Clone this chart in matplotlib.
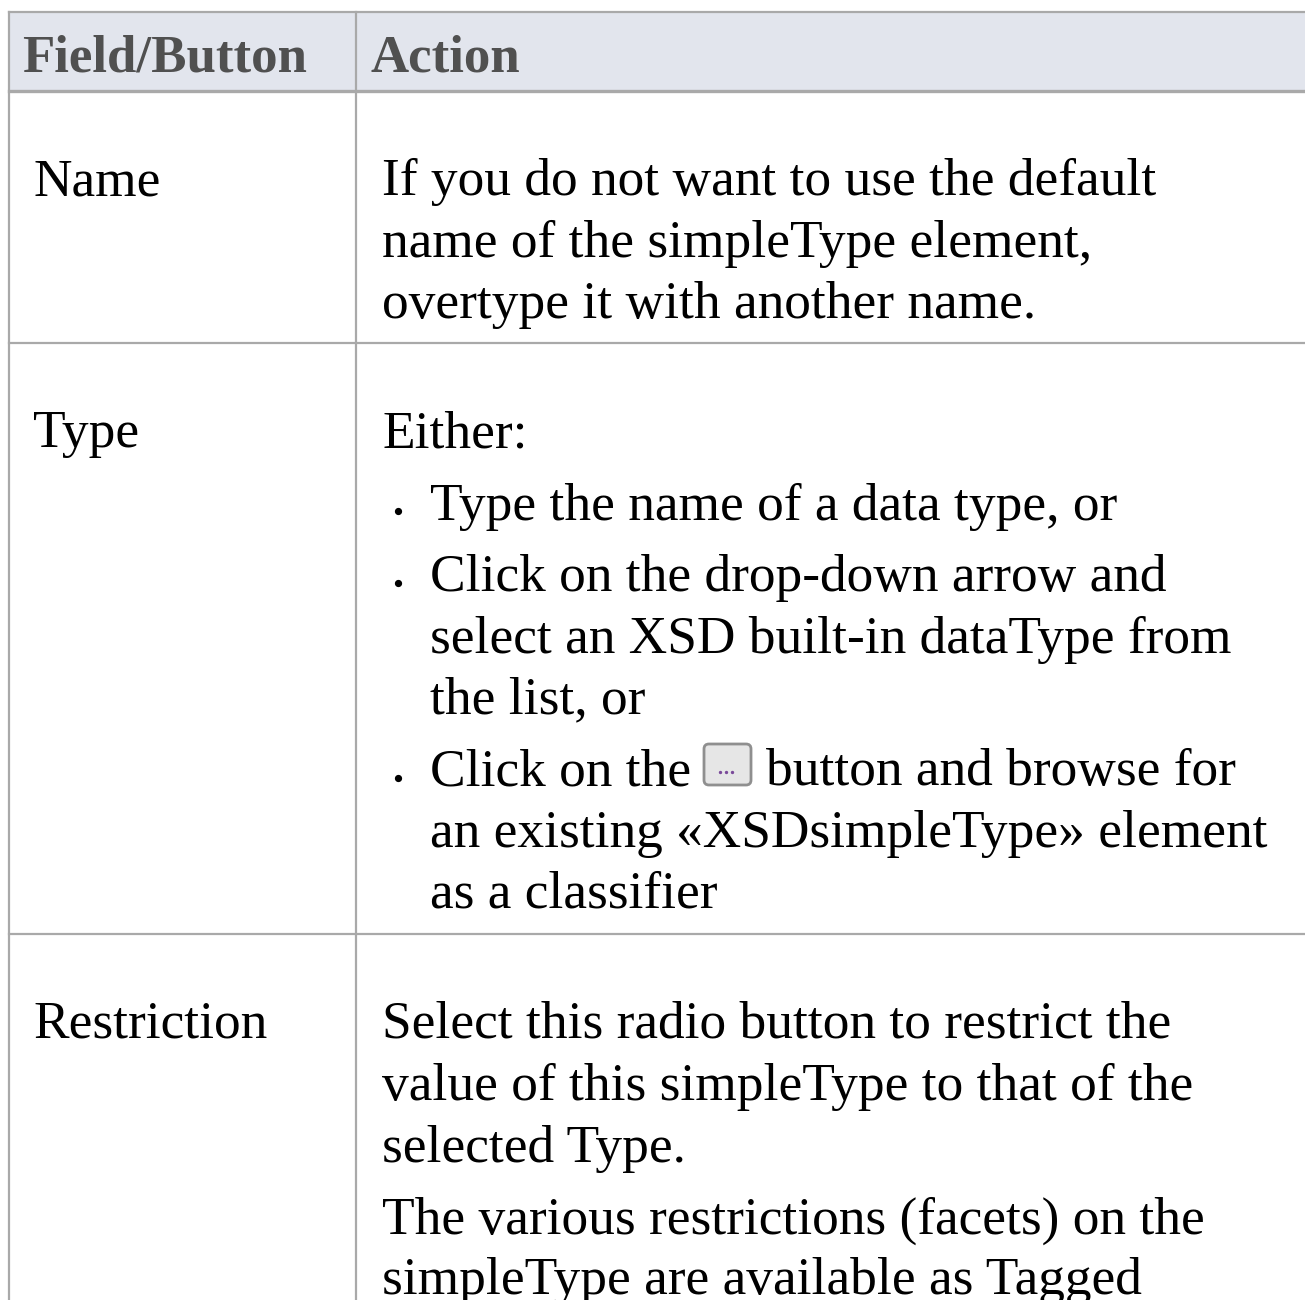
import matplotlib
matplotlib.use('Agg')
import matplotlib.pyplot as plt
from matplotlib.patches import Rectangle, FancyBboxPatch

headers = ['Field/Button', 'Action']
field_names = ['Name', 'Type', 'Restriction']
name_lines = ['If you do not want to use the default',
              'name of the simpleType element,',
              'overtype it with another name.']
type_lines = ['Either:']
type_bullets = ['Type the name of a data type, or',
                'Click on the drop-down arrow and',
                'select an XSD built-in dataType from',
                'the list, or',
                'Click on the',
                'an existing «XSDsimpleType» element',
                'as a classifier']
restriction_lines = ['Select this radio button to restrict the',
                     'value of this simpleType to that of the',
                     'selected Type.',
                     'The various restrictions (facets) on the',
                     'simpleType are available as Tagged']
button_tail = 'button and browse for'

W, H = 1305, 1300
FS = 38.4
BLACK = '#000000'
LINE = '#a9a9a9'

plt.rcParams['font.family'] = ['Liberation Serif', 'DejaVu Serif']
fig = plt.figure(figsize=(W / 100, H / 100), dpi=100)
ax = fig.add_axes([0, 0, 1, 1])
ax.set_xlim(0, W)
ax.set_ylim(H, 0)
ax.axis('off')

# header band
ax.add_patch(Rectangle((9, 12), W - 9, 79, fc='#e2e5ed', ec='none', zorder=1))

# table rules
ax.plot([9, 9], [12, H], color=LINE, lw=1.6, zorder=2)
ax.plot([356, 356], [12, H], color=LINE, lw=1.6, zorder=2)
ax.plot([9, W], [12, 12], color=LINE, lw=1.6, zorder=2)
ax.plot([9, W], [91, 91], color=LINE, lw=2.4, zorder=2)
ax.plot([9, W], [343, 343], color=LINE, lw=1.6, zorder=2)
ax.plot([9, W], [934, 934], color=LINE, lw=1.6, zorder=2)


def put(x, y, s, **kw):
    ax.text(x, y, s, fontsize=kw.pop('fontsize', FS), va='baseline', ha='left',
            color=kw.pop('color', BLACK), zorder=3, **kw)


# header text
put(22, 71, headers[0], fontweight='bold', color='#505050', fontsize=38.1)
put(370.5, 71, headers[1], fontweight='bold', color='#505050', fontsize=38.1)

# first column
for y, s in zip([195, 447, 1037], field_names):
    put(33.5, y, s)

# second column
for y, s in zip([195, 257, 318], name_lines):
    put(382, y, s)
put(382, 447, type_lines[0])
for y, s in zip([520, 591, 653, 713, 785, 847, 908], type_bullets):
    put(430, y, s)
for y in [518, 590, 785]:
    ax.plot([398], [y - 7], 'o', ms=4.2, color=BLACK, zorder=3)
for y, s in zip([1037, 1100, 1162, 1234, 1294], restriction_lines):
    put(382, y, s)

# the "..." button inline with text
ax.add_patch(FancyBboxPatch((704, 744), 47, 41, boxstyle='round,pad=0,rounding_size=5',
                            fc='#e6e6e6', ec='#8f8f8f', lw=2, zorder=3))
ax.plot([720, 726, 732], [772, 772, 772], ls='none', marker='o', ms=1.4, color='#7a4a9a', zorder=4)
put(766, 785, button_tail)

fig.savefig('out.png', dpi=100)
